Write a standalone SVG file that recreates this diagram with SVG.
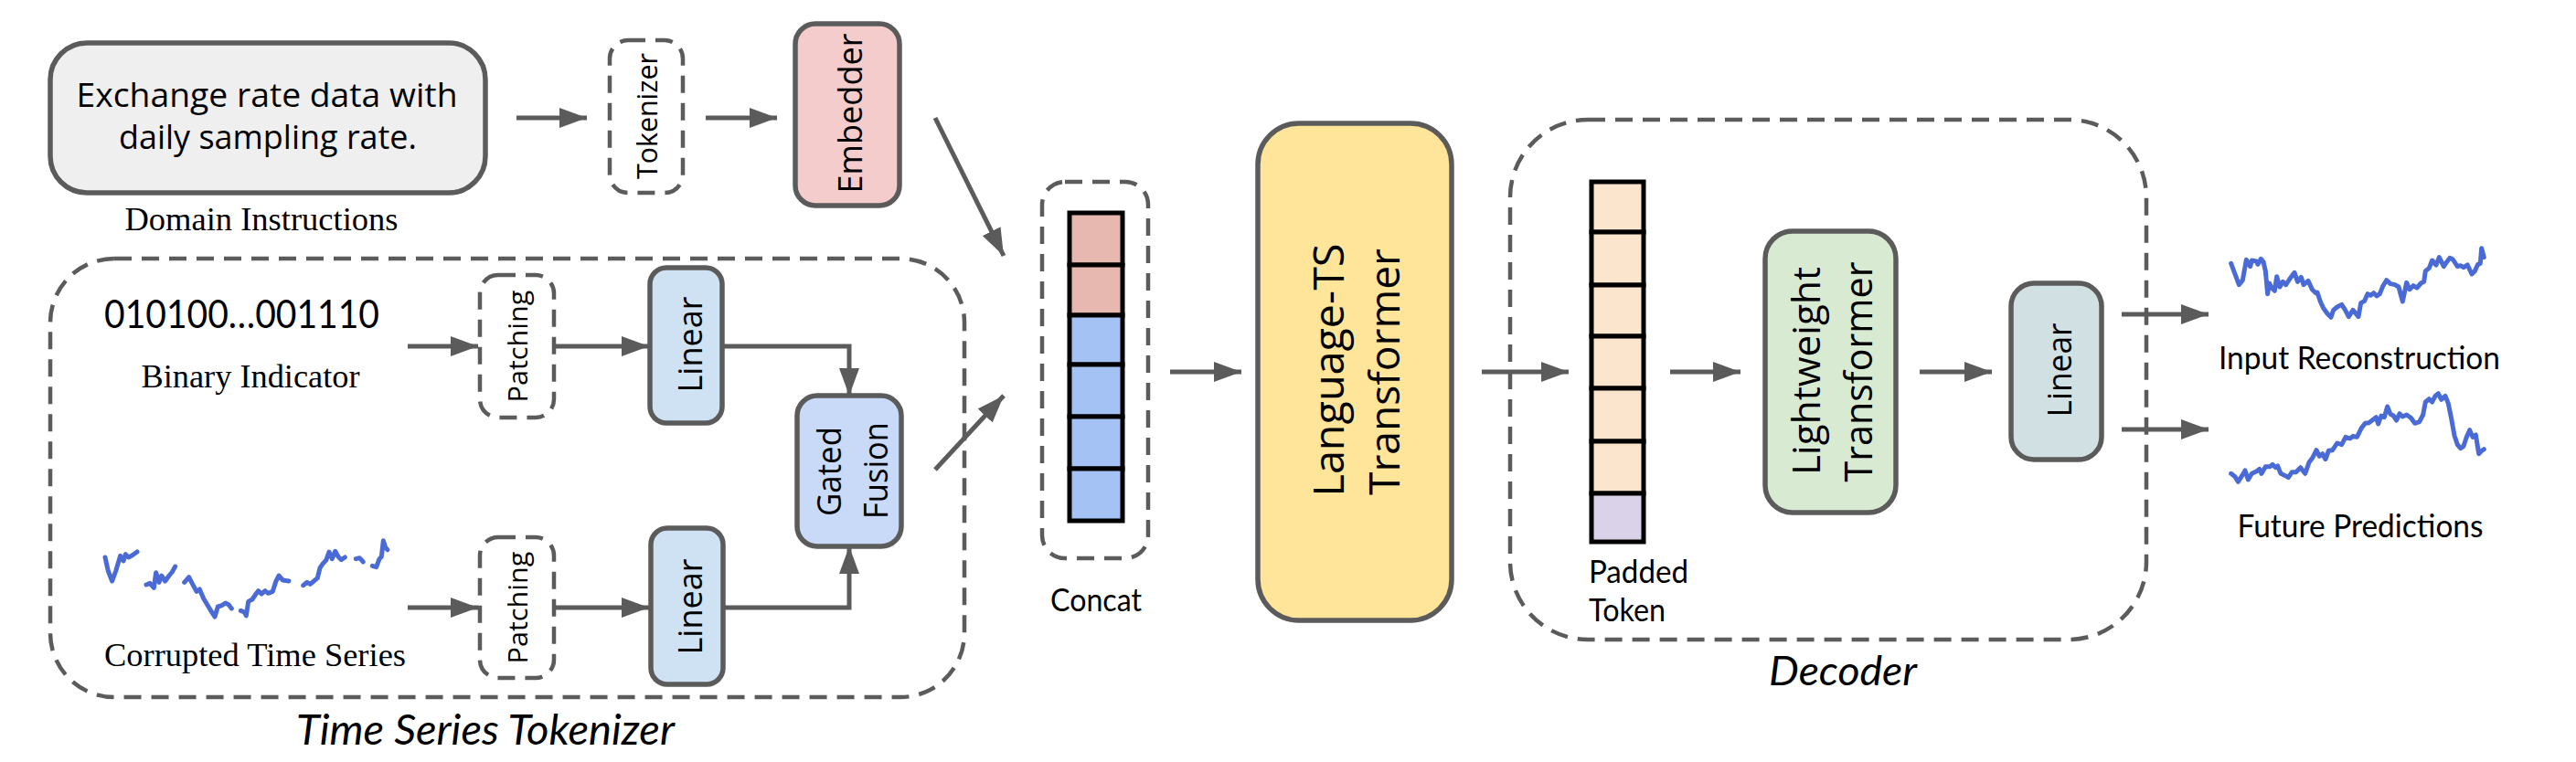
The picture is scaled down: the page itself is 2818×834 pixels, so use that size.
<svg xmlns="http://www.w3.org/2000/svg" width="2818" height="834" viewBox="0 0 2818 834">
<defs>
<marker id="ah" viewBox="0 0 30 22" refX="30" refY="11" markerWidth="30" markerHeight="22" markerUnits="userSpaceOnUse" orient="auto">
<path d="M0,0 L30,11 L0,22 z" fill="#5b5b5b"/>
</marker>
<style>
.box{stroke:#5b5b5b;stroke-width:5.5}
.dash{fill:none;stroke:#5b5b5b;stroke-width:4.5;stroke-dasharray:19 11}
.dashw{fill:#ffffff;stroke:#5b5b5b;stroke-width:4.5;stroke-dasharray:19 11}
.conn{fill:none;stroke:#5b5b5b;stroke-width:5}
.cell{stroke:#000000;stroke-width:5}
.lbl{font-family:"Open Sans","DejaVu Sans",sans-serif;fill:#000000;text-anchor:middle}
.cal{font-family:Lato,"Open Sans",sans-serif;fill:#000000}
.tim{font-family:"Liberation Serif","Times New Roman",serif;fill:#000000}
.wave{fill:none;stroke:#4a6bd6;stroke-width:15;stroke-linejoin:round;stroke-linecap:round}
</style>
</defs>
<rect width="2818" height="834" fill="#ffffff"/>

<g id="time-series-tokenizer">
<rect class="dash" x="55" y="283" width="1000" height="480" rx="70"/>
<text class="cal" x="324" y="815" font-size="46" font-style="italic" textLength="414" lengthAdjust="spacingAndGlyphs">Time Series Tokenizer</text>
</g>
<g id="decoder">
<rect class="dash" x="1652" y="131" width="696" height="569" rx="85"/>
<text class="cal" x="1935" y="750" font-size="44" font-style="italic" textLength="162" lengthAdjust="spacingAndGlyphs">Decoder</text>
</g>

<g id="connectors">
<line class="conn" x1="565" y1="129" x2="642" y2="129" marker-end="url(#ah)"/>
<line class="conn" x1="772" y1="129" x2="850" y2="129" marker-end="url(#ah)"/>
<line class="conn" x1="1023" y1="129" x2="1098" y2="280" marker-end="url(#ah)"/>
<line class="conn" x1="446" y1="379" x2="523" y2="379" marker-end="url(#ah)"/>
<line class="conn" x1="606" y1="379" x2="710" y2="379" marker-end="url(#ah)"/>
<path class="conn" d="M790,379 H929 V433" marker-end="url(#ah)"/>
<line class="conn" x1="446" y1="665" x2="523" y2="665" marker-end="url(#ah)"/>
<line class="conn" x1="606" y1="665" x2="710" y2="665" marker-end="url(#ah)"/>
<path class="conn" d="M791,665 H929 V598" marker-end="url(#ah)"/>
<line class="conn" x1="1023" y1="514" x2="1098" y2="433" marker-end="url(#ah)"/>
<line class="conn" x1="1280" y1="407" x2="1358" y2="407" marker-end="url(#ah)"/>
<line class="conn" x1="1621" y1="407" x2="1716" y2="407" marker-end="url(#ah)"/>
<line class="conn" x1="1827" y1="407" x2="1904" y2="407" marker-end="url(#ah)"/>
<line class="conn" x1="2100" y1="407" x2="2179" y2="407" marker-end="url(#ah)"/>
<line class="conn" x1="2321" y1="344" x2="2416" y2="344" marker-end="url(#ah)"/>
<line class="conn" x1="2321" y1="470" x2="2416" y2="470" marker-end="url(#ah)"/>
</g>

<g id="domain-instructions">
<rect class="box" x="55" y="47" width="476" height="164" rx="40" fill="#efefef"/>
<text class="lbl" x="292" y="117" font-size="36" font-family="'DejaVu Sans',sans-serif" textLength="417" lengthAdjust="spacingAndGlyphs">Exchange rate data with</text>
<text class="lbl" x="293" y="163" font-size="36" font-family="'DejaVu Sans',sans-serif" textLength="326" lengthAdjust="spacingAndGlyphs">daily sampling rate.</text>
<text class="tim" x="286" y="252" font-size="36" text-anchor="middle" textLength="299" lengthAdjust="spacingAndGlyphs">Domain Instructions</text>
</g>

<g id="tokenizer">
<rect class="dashw" x="667" y="44" width="80" height="167" rx="20"/>
<text class="lbl" transform="translate(719,127) rotate(-90)" font-size="31" textLength="138" lengthAdjust="spacingAndGlyphs">Tokenizer</text>
</g>

<g id="embedder">
<rect class="box" x="870" y="26" width="114" height="199" rx="22" fill="#f4cccc"/>
<text class="lbl" transform="translate(943,124) rotate(-90)" font-size="37" textLength="175" lengthAdjust="spacingAndGlyphs">Embedder</text>
</g>

<g id="binary-indicator">
<text class="cal" x="114" y="359" font-size="43" textLength="301" lengthAdjust="spacingAndGlyphs">010100…001110</text>
<text class="tim" x="274" y="424" font-size="36" text-anchor="middle" textLength="239" lengthAdjust="spacingAndGlyphs">Binary Indicator</text>
</g>

<g id="corrupted-time-series">
<g transform="translate(100,560) scale(0.33333)">
<polyline class="wave" points="45,150 55,195 68,228 80,195 95,145 105,162 112,140 122,150 132,145 150,132"/>
<polyline class="wave" points="180,240 192,235 205,250 212,200 222,232 230,210 242,228 255,210 265,198 275,180"/>
<polyline class="wave" points="305,232 320,215 332,238 345,262 355,255 368,285 380,305 395,330 405,345 415,312 428,308 440,300 450,305 460,318"/>
<polyline class="wave" points="490,325 502,330 508,342 515,295 528,288 540,270 548,260 558,270 570,260 580,268 595,262 605,230 615,210 628,225 648,228"/>
<polyline class="wave" points="695,242 708,232 718,238 730,228 742,218 750,185 760,170 770,160 780,132 790,155 800,130 810,148 820,158 832,150"/>
<polyline class="wave" points="868,155 880,152 892,165"/>
<polyline class="wave" points="922,178 935,182 945,155 952,148 958,95 965,118 972,125"/>
</g>
<text class="tim" x="279" y="729" font-size="36" text-anchor="middle" textLength="330" lengthAdjust="spacingAndGlyphs">Corrupted Time Series</text>
</g>

<g id="patching-1">
<rect class="dashw" x="525" y="301" width="81" height="156" rx="20"/>
<text class="lbl" transform="translate(577,379) rotate(-90)" font-size="29" textLength="123" lengthAdjust="spacingAndGlyphs">Patching</text>
</g>
<g id="patching-2">
<rect class="dashw" x="525" y="588" width="81" height="154" rx="20"/>
<text class="lbl" transform="translate(577,665) rotate(-90)" font-size="29" textLength="123" lengthAdjust="spacingAndGlyphs">Patching</text>
</g>

<g id="linear-1">
<rect class="box" x="711" y="293" width="79" height="170" rx="18" fill="#cfe2f3"/>
<text class="lbl" transform="translate(768,377) rotate(-90)" font-size="36" textLength="105" lengthAdjust="spacingAndGlyphs">Linear</text>
</g>
<g id="linear-2">
<rect class="box" x="712" y="578" width="79" height="171" rx="18" fill="#cfe2f3"/>
<text class="lbl" transform="translate(768,664) rotate(-90)" font-size="36" textLength="105" lengthAdjust="spacingAndGlyphs">Linear</text>
</g>

<g id="gated-fusion">
<rect class="box" x="872" y="433" width="114" height="165" rx="22" fill="#c9daf8"/>
<text class="lbl" transform="translate(920,516) rotate(-90)" font-size="37" textLength="98" lengthAdjust="spacingAndGlyphs">Gated</text>
<text class="lbl" transform="translate(971,515) rotate(-90)" font-size="37" textLength="106" lengthAdjust="spacingAndGlyphs">Fusion</text>
</g>

<g id="concat">
<rect class="dash" x="1140" y="199" width="116" height="412" rx="25"/>
<rect class="cell" x="1170" y="233" width="58" height="57" fill="#e6b8af"/>
<rect class="cell" x="1170" y="290" width="58" height="55" fill="#e6b8af"/>
<rect class="cell" x="1170" y="345" width="58" height="54" fill="#a4c2f4"/>
<rect class="cell" x="1170" y="399" width="58" height="57" fill="#a4c2f4"/>
<rect class="cell" x="1170" y="456" width="58" height="57" fill="#a4c2f4"/>
<rect class="cell" x="1170" y="513" width="58" height="57" fill="#a4c2f4"/>
<text class="cal" x="1199" y="669" font-size="35" text-anchor="middle" textLength="100" lengthAdjust="spacingAndGlyphs">Concat</text>
</g>

<g id="language-ts-transformer">
<rect class="box" x="1376" y="135" width="212" height="544" rx="45" fill="#ffe599"/>
<text class="lbl" transform="translate(1470,405) rotate(-90)" font-size="46" textLength="277" lengthAdjust="spacingAndGlyphs">Language-TS</text>
<text class="lbl" transform="translate(1531,407) rotate(-90)" font-size="46" textLength="270" lengthAdjust="spacingAndGlyphs">Transformer</text>
</g>

<g id="padded-token">
<rect class="cell" x="1741" y="199" width="57" height="55" fill="#fce5cd"/>
<rect class="cell" x="1741" y="254" width="57" height="58" fill="#fce5cd"/>
<rect class="cell" x="1741" y="312" width="57" height="56" fill="#fce5cd"/>
<rect class="cell" x="1741" y="368" width="57" height="57" fill="#fce5cd"/>
<rect class="cell" x="1741" y="425" width="57" height="58" fill="#fce5cd"/>
<rect class="cell" x="1741" y="483" width="57" height="57" fill="#fce5cd"/>
<rect class="cell" x="1741" y="540" width="57" height="53" fill="#d9d2e9"/>
<text class="cal" x="1738" y="638" font-size="35" textLength="109" lengthAdjust="spacingAndGlyphs">Padded</text>
<text class="cal" x="1738" y="680" font-size="35" textLength="84" lengthAdjust="spacingAndGlyphs">Token</text>
</g>

<g id="lightweight-transformer">
<rect class="box" x="1931" y="253" width="143" height="308" rx="30" fill="#d9ead3"/>
<text class="lbl" transform="translate(1991,406) rotate(-90)" font-size="42" textLength="228" lengthAdjust="spacingAndGlyphs">Lightweight</text>
<text class="lbl" transform="translate(2048,407) rotate(-90)" font-size="42" textLength="241" lengthAdjust="spacingAndGlyphs">Transformer</text>
</g>

<g id="linear-3">
<rect class="box" x="2200" y="310" width="99" height="193" rx="25" fill="#d0e0e3"/>
<text class="lbl" transform="translate(2266,405) rotate(-90)" font-size="36" textLength="103" lengthAdjust="spacingAndGlyphs">Linear</text>
</g>

<g id="input-reconstruction">
<g transform="translate(2420,250) scale(0.33333)">
<polyline class="wave" points="62,115 75,150 88,185 100,170 112,103 125,125 130,105 145,108 150,118 160,100 168,110 175,140 182,215 188,180 195,195 205,205 212,158 222,192 232,175 242,185 255,165 270,145 280,175 292,160 300,185 315,172 328,200 340,212 345,210 355,240 365,262 378,280 390,292 398,268 410,258 425,250 435,265 448,290 462,268 472,280 480,290 488,245 500,238 510,215 520,220 530,212 540,222 550,215 560,190 572,170 585,182 600,185 612,192 625,240 638,178 648,200 660,188 672,195 685,180 695,175 700,140 712,130 722,105 735,120 745,95 760,125 770,110 780,97 790,102 805,125 815,122 825,128 838,120 852,150 862,140 872,118 880,115 884,65 892,95"/>
</g>
<text class="cal" x="2581" y="404" font-size="35" text-anchor="middle" textLength="308" lengthAdjust="spacingAndGlyphs">Input Reconstruction</text>
</g>

<g id="future-predictions">
<g transform="translate(2420,400) scale(0.33333)">
<polyline class="wave" points="62,355 75,365 85,382 98,362 108,345 118,375 130,355 145,348 155,340 162,355 175,332 190,332 198,325 208,335 215,330 225,355 240,362 250,368 262,350 275,350 290,335 305,355 318,318 330,302 342,278 352,298 362,290 372,308 382,280 395,278 410,255 425,260 438,235 452,240 462,232 475,235 490,205 502,190 515,188 525,180 538,170 545,192 555,165 565,170 575,135 585,160 595,165 605,180 615,158 625,168 638,162 652,172 665,190 680,185 692,162 700,120 712,110 722,120 732,100 742,92 752,112 765,100 775,125 785,175 795,230 805,260 815,272 825,265 835,235 845,212 855,235 865,228 875,290 885,280 892,275"/>
</g>
<text class="cal" x="2582" y="588" font-size="35" text-anchor="middle" textLength="269" lengthAdjust="spacingAndGlyphs">Future Predictions</text>
</g>
</svg>
